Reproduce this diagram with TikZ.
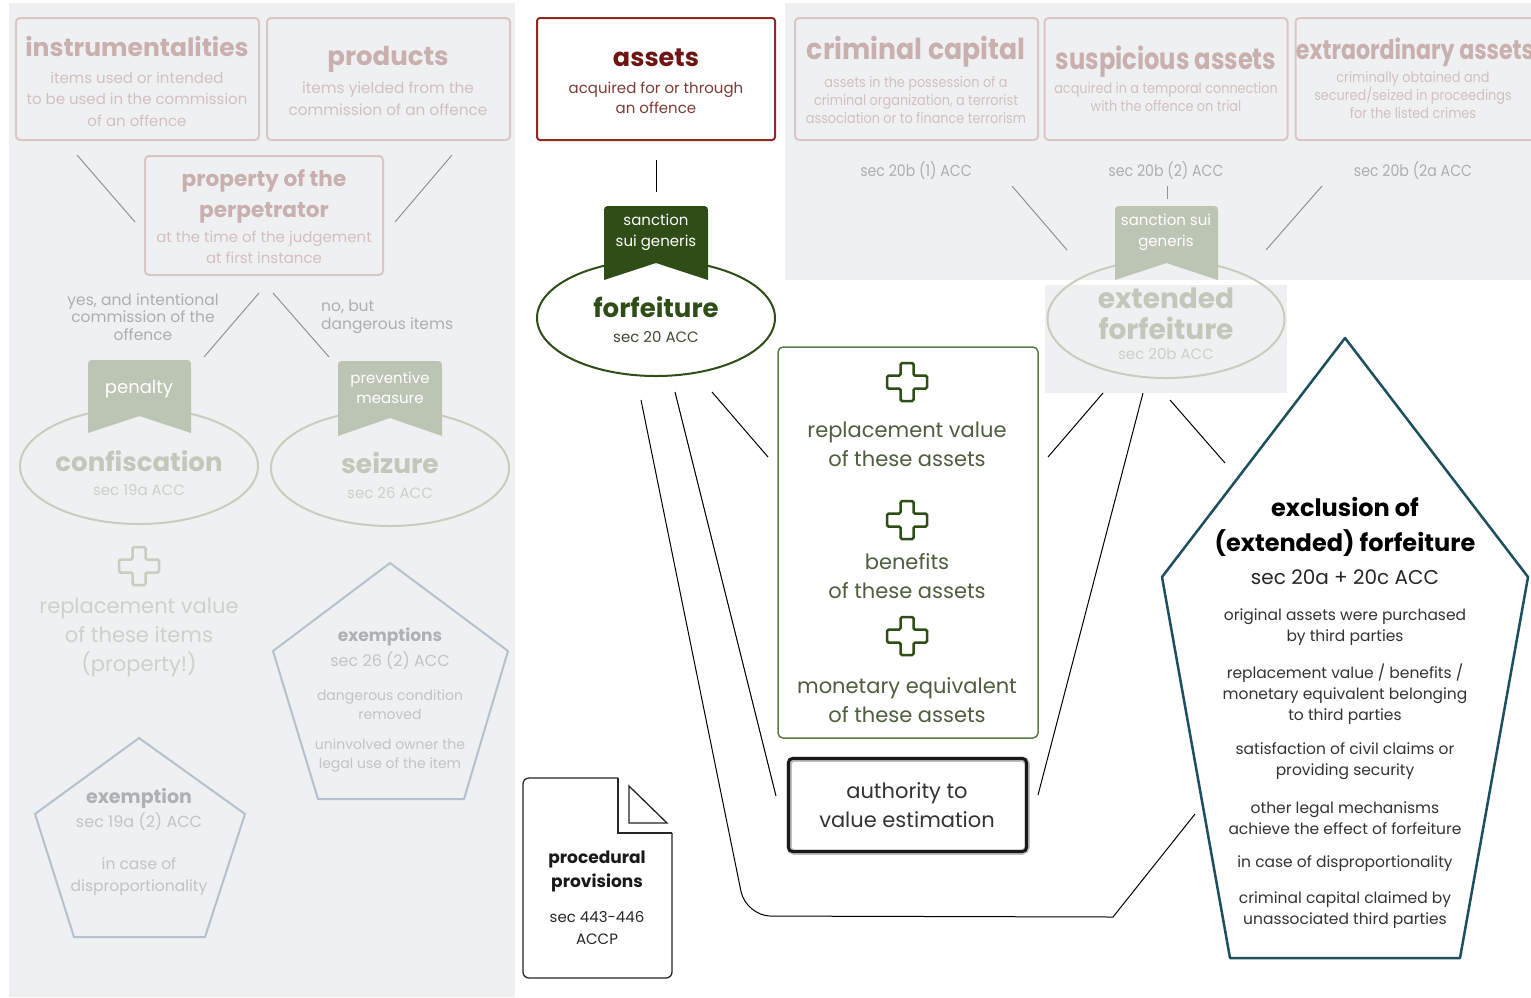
\documentclass[tikz,border=0pt]{standalone}
\usepackage{fontspec}
\setmainfont{Poppins}
\newfontfamily\cond[FakeStretch=0.82]{Poppins}
\newfontfamily\condb[FakeStretch=0.92]{Poppins}
\newfontfamily\conds[FakeStretch=0.885]{Poppins}
\usetikzlibrary{shapes.geometric}
\definecolor{panel}{HTML}{EEF0F2}
\definecolor{pinkstroke}{HTML}{DCC6C4}
\definecolor{pinktitle}{HTML}{C9AFAD}
\definecolor{pinktext}{HTML}{D3C0BE}
\definecolor{sagefill}{HTML}{BCC5B3}
\definecolor{sagestroke}{HTML}{C8CDC0}
\definecolor{sagetitle}{HTML}{C2C7BA}
\definecolor{sagetext}{HTML}{CBD0C6}
\definecolor{greytext}{HTML}{ABAFB3}
\definecolor{greyline}{HTML}{8F9397}
\definecolor{pentstroke}{HTML}{B5C1CD}
\definecolor{penttitle}{HTML}{ADB1B5}
\definecolor{penttext}{HTML}{C0C4C8}
\definecolor{lighttext}{HTML}{CDD1CC}
\definecolor{darkred}{HTML}{8E2A22}
\definecolor{redtitle}{HTML}{6E1712}
\definecolor{redtext}{HTML}{7E3C36}
\definecolor{dgreen}{HTML}{2E4D17}
\definecolor{dgreentext}{HTML}{3E4C34}
\definecolor{boxgreen}{HTML}{5E7D45}
\definecolor{olivetext}{HTML}{4E5E3E}
\definecolor{teal}{HTML}{1D4F5E}
\newcommand\fs[2]{\fontsize{#1}{#2}\selectfont}
\newcommand\bannerpath[5]{(#1,#4) -- (#1,#3+8) .. controls (#1,#3) .. (#1+8,#3) -- (#2-8,#3) .. controls (#2,#3) .. (#2,#3+8) -- (#2,#4) -- ({(#1+#2)/2},#5) -- cycle}
\tikzset{
  pinkbox/.style={draw=pinkstroke, line width=2, rounded corners=4, minimum width=243, minimum height=122},
  sageell/.style={ellipse, draw=sagestroke, line width=2, minimum width=238, minimum height=116},
  conn/.style={line width=1, black},
  gconn/.style={line width=1, greyline},
  txt/.style={align=center, inner sep=0},
  plussign/.pic={\draw[rounded corners=1.5, line width=2.5] (-6.5,-19) -- (6.5,-19) -- (6.5,-6.5) -- (20,-6.5) -- (20,6.5) -- (6.5,6.5) -- (6.5,19) -- (-6.5,19) -- (-6.5,6.5) -- (-20,6.5) -- (-20,-6.5) -- (-6.5,-6.5) -- cycle;}
}
\begin{document}
\begin{tikzpicture}[x=1pt,y=-1pt]
\useasboundingbox (0,0) rectangle (1531,997);
\fill[white] (0,0) rectangle (1531,997);
% panels
\fill[panel] (9,3) rectangle (515,997);
\fill[panel] (785,3) rectangle (1531,280);
\fill[panel] (1045,285) rectangle (1287,393);

% ---------- left panel ----------
\node[pinkbox] (instr) at (137.5,79) {};
\node[pinkbox] (prod) at (388.5,79) {};
\node[pinkbox, minimum width=238, minimum height=119] (prop) at (264,215.5) {};
\node[txt, text=pinktitle, font=\bfseries\fs{25}{30}] (instrT) at (137,47) {instrumentalities};
\node[txt, text=pinktext, font=\fs{15}{21.5}] (instrS) at (137,99) {items used or intended\\to be used in the commission\\of an offence};
\node[txt, text=pinktitle, font=\bfseries\fs{26}{30}] (prodT) at (388,59) {products};
\node[txt, text=pinktext, font=\fs{15.3}{22}] (prodS) at (388,99) {items yielded from the\\commission of an offence};
\node[txt, text=pinktitle, font=\bfseries\fs{21.6}{31}] (propT) at (264,196) {property of the\\perpetrator};
\node[txt, text=pinktext, font=\fs{15}{21}] (propS) at (264,247) {at the time of the judgement\\at first instance};
\draw[gconn] (77,155) coordinate (a1) -- (135,222) coordinate (a2);
\draw[gconn] (452,155) coordinate (b1) -- (395,222) coordinate (b2);
\node[txt, text=greytext, font=\fs{15.5}{17.5}] (yes) at (143,317) {yes, and intentional\\commission of the\\offence};
\node[txt, text=greytext, font=\fs{15.5}{17.5}, align=left, anchor=west] (nobut) at (321,317) {no, but\\dangerous items};
\draw[gconn] (259,293) coordinate (c1) -- (204,357) coordinate (c2);
\draw[gconn] (273,293) coordinate (d1) -- (329,357) coordinate (d2);

\node[sageell] (confisc) at (139,466) {};
\fill[sagefill] \bannerpath{88}{191}{360}{433}{416};
\node[txt, text=white, font=\fs{18}{21}] (pen) at (139,389) {penalty};
\node[txt, text=sagetitle, font=\bfseries\fs{26}{32}] (confT) at (139,461) {confiscation};
\node[txt, text=sagetext, font=\fs{15}{18}] (confS) at (139,490) {sec 19a ACC};

\node[sageell] (seiz) at (390,468) {};
\fill[sagefill] \bannerpath{338}{442}{361}{436}{418};
\node[txt, text=white, font=\fs{15}{20}] (prev) at (390,388) {preventive\\measure};
\node[txt, text=sagetitle, font=\bfseries\fs{26.5}{32}] (seizT) at (390,463) {seizure};
\node[txt, text=sagetext, font=\fs{15}{18}] (seizS) at (390,493) {sec 26 ACC};

\pic[color=sagestroke] at (139,566) {plussign};
\node[txt, text=lighttext, font=\fs{21}{29}] (repl) at (139,637) {replacement value\\of these items\\(property!)};

\draw[pentstroke, line width=2] (390,563) -- (508,651) -- (464,799) -- (318,799) -- (273,651) -- cycle;
\node[txt, text=penttitle, font=\bfseries\fs{17}{20}] (exsT) at (390,637) {exemptions};
\node[txt, text=penttext, font=\fs{16}{19}] (exsS) at (390,661) {sec 26 (2) ACC};
\node[txt, text=penttext, font=\fs{14}{19}] (exs1) at (390,705) {dangerous condition\\removed};
\node[txt, text=penttext, font=\fs{14}{19}] (exs2) at (390,756) {uninvolved owner the\\legal use of the item};

\draw[pentstroke, line width=2] (139,738) -- (245,814) -- (205,937) -- (74,937) -- (35,814) -- cycle;
\node[txt, text=penttitle, font=\bfseries\fs{19}{22}] (exT) at (139,798) {exemption};
\node[txt, text=penttext, font=\fs{16}{19}] (exS) at (139,822) {sec 19a (2) ACC};
\node[txt, text=penttext, font=\fs{15.5}{22}] (ex1) at (139,877) {in case of\\disproportionality};

% ---------- middle ----------
\node[draw=darkred, line width=2, rounded corners=3, minimum width=238, minimum height=122] (assets) at (656,79) {};
\node[txt, text=redtitle, font=\bfseries\fs{25.5}{32}] (assetsT) at (656,58) {assets};
\node[txt, text=redtext, font=\fs{15}{20}] (assetsS) at (656,98) {acquired for or through\\an offence};
\draw[conn] (656,160) coordinate (e1) -- (656,192) coordinate (e2);

\node[ellipse, draw=dgreen, line width=2, minimum width=238, minimum height=116] (forf) at (656,318) {};
\fill[dgreen] \bannerpath{604}{708}{206}{280}{263};
\node[txt, text=white, font=\fs{15}{21}] (sanc) at (656,232) {sanction\\sui generis};
\node[txt, text=dgreen, font=\bfseries\fs{26}{32}] (forfT) at (656,307) {forfeiture};
\node[txt, text=dgreentext, font=\fs{15}{18}] (forfS) at (656,337) {sec 20 ACC};

\node[draw=boxgreen, line width=1.5, rounded corners=5, minimum width=260, minimum height=391] (gbox) at (908,542.5) {};
\pic[color=dgreen] at (907,382) {plussign};
\pic[color=dgreen] at (907,520) {plussign};
\pic[color=dgreen] at (907,636) {plussign};
\node[txt, text=olivetext, font=\fs{21}{29}] (g1) at (907,444) {replacement value\\of these assets};
\node[txt, text=olivetext, font=\fs{21}{29}] (g2) at (907,576) {benefits\\of these assets};
\node[txt, text=olivetext, font=\fs{21}{29}] (g3) at (907,700) {monetary equivalent\\of these assets};

\node[draw=black!25, line width=5.5, rounded corners=5, minimum width=238, minimum height=93] (authsh) at (908,805.5) {};
\node[draw=black!90, line width=3, rounded corners=4, minimum width=238, minimum height=93] (auth) at (907.5,805) {};
\node[txt, text=black!80, font=\fs{21}{29}] (authT) at (907,805) {authority to\\value estimation};

% document
\draw[black!85, line width=1.3, rounded corners=6] (618,778) -- (523,778) -- (523,978) -- (672,978) -- (672,833);
\draw[black!85, line width=1.3] (672,833) -- (618,833) -- (618,778);
\draw[black!85, line width=1.3] (629,786) -- (629,823) -- (667,823) -- cycle;
\node[txt, text=black!90, font=\bfseries\fs{17}{24}] (procT) at (597,871) {procedural\\provisions};
\node[txt, text=black!85, font=\fs{15}{22}] (procS) at (597,928) {sec 443-446\\ACCP};

% connectors middle
\draw[conn] (712,392) coordinate (f1) -- (768,457) coordinate (f2);
\draw[conn] (675,392) coordinate (g1a) -- (776,796) coordinate (g2a);
\draw[conn, rounded corners=25] (641,400) coordinate (h1) -- (746,916) -- (930,916.5) coordinate (hm);
\draw[conn] (hm) -- (1113,917) -- (1195,814) coordinate (h2);
\draw[conn] (1103,393) coordinate (i1) -- (1048,457) coordinate (i2);
\draw[conn] (1143,393) coordinate (j1) -- (1038,795) coordinate (j2);
\draw[conn] (1170,400) coordinate (k1) -- (1225,463) coordinate (k2);

% ---------- top right ----------
\node[pinkbox] (crim) at (916.5,79) {};
\node[pinkbox] (susp) at (1166,79) {};
\node[pinkbox, minimum width=245] (extra) at (1418,79) {};
\node[txt, text=pinktitle, font=\condb\bfseries\fs{29}{32}] (crimT) at (916,52) {criminal capital};
\node[txt, text=pinktext, font=\conds\fs{14.5}{18}] (crimS) at (916,100) {assets in the possession of a\\criminal organization, a terrorist\\association or to finance terrorism};
\node[txt, text=pinktitle, font=\cond\bfseries\fs{29.5}{32}] (suspT) at (1166,62) {suspicious assets};
\node[txt, text=pinktext, font=\conds\fs{14.5}{18}] (suspS) at (1166,97) {acquired in a temporal connection\\with the offence on trial};
\node[txt, text=pinktitle, font=\cond\bfseries\fs{27}{32}] (extraT) at (1415,52) {extraordinary assets};
\node[txt, text=pinktext, font=\conds\fs{14.5}{18}] (extraS) at (1413,95) {criminally obtained and\\secured/seized in proceedings\\for the listed crimes};
\node[txt, text=greytext, font=\conds\fs{16}{18}] (s1) at (916,171) {sec 20b (1) ACC};
\node[txt, text=greytext, font=\conds\fs{16}{18}] (s2) at (1166,171) {sec 20b (2) ACC};
\node[txt, text=greytext, font=\conds\fs{16}{18}] (s3) at (1413,171) {sec 20b (2a ACC};
\draw[gconn] (1012,186) coordinate (m1) -- (1067,250) coordinate (m2);
\draw[gconn] (1167,186) coordinate (n1) -- (1167,199) coordinate (n2);
\draw[gconn] (1322,186) coordinate (o1) -- (1266,250) coordinate (o2);

\node[sageell, minimum width=237, minimum height=118] (extf) at (1166,319) {};
\fill[sagefill] \bannerpath{1115}{1218}{206}{280}{263};
\node[txt, text=white, font=\fs{15}{21}] (sanc2) at (1166,232) {sanction sui\\generis};
\node[txt, text=sagetitle, font=\bfseries\fs{28}{31}] (extfT) at (1166,314) {extended\\forfeiture};
\node[txt, text=sagetext, font=\fs{15}{18}] (extfS) at (1166,354) {sec 20b ACC};

% exclusion pentagon
\draw[teal, line width=2.5, line join=round] (1345,338) -- (1528,577) -- (1460,958) -- (1230,958) -- (1162,577) -- cycle;
\node[txt, text=black, font=\bfseries\fs{24}{35}] (exclT) at (1345,527) {exclusion of\\(extended) forfeiture};
\node[txt, text=black!85, font=\fs{20}{24}] (exclS) at (1345,577) {sec 20a + 20c ACC};
\node[txt, text=black!80, font=\fs{15.5}{21}] (x1) at (1345,627) {original assets were purchased\\by third parties};
\node[txt, text=black!80, font=\fs{15.5}{21}] (x2) at (1345,694) {replacement value / benefits /\\monetary equivalent belonging\\to third parties};
\node[txt, text=black!80, font=\fs{15.5}{21}] (x3) at (1345,761) {satisfaction of civil claims or\\providing security};
\node[txt, text=black!80, font=\fs{15.5}{21}] (x4) at (1345,818) {other legal mechanisms\\achieve the effect of forfeiture};
\node[txt, text=black!80, font=\fs{15.5}{21}] (x5) at (1345,864) {in case of disproportionality};
\node[txt, text=black!80, font=\fs{15.5}{21}] (x6) at (1345,910) {criminal capital claimed by\\unassociated third parties};
\end{tikzpicture}
\end{document}
